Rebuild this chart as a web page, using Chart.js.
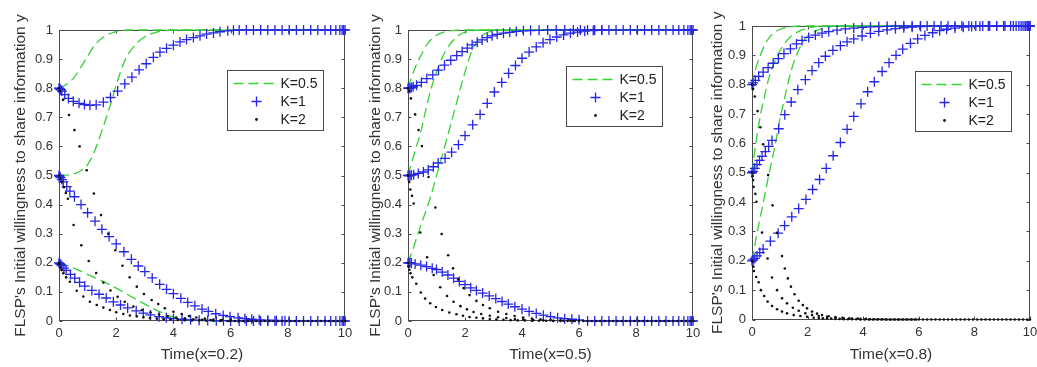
<!DOCTYPE html>
<html>
<head>
<meta charset="utf-8">
<script src="https://cdn.jsdelivr.net/npm/chart.js@4.4.1/dist/chart.umd.min.js"></script>
<style>
  html, body { margin: 0; padding: 0; background: #fff; }
  #wrap { position: relative; width: 1037px; height: 367px; overflow: hidden; }
  canvas { position: absolute; top: 0; }
</style>
</head>
<body>
<div id="wrap">
  <canvas id="c1" width="358" height="367" style="left:0px"></canvas>
  <canvas id="c2" width="358" height="367" style="left:350px"></canvas>
  <canvas id="c3" width="337" height="367" style="left:700px"></canvas>
</div>
<script>
// legend / axis text
const legendLabels = ["K=0.5", "K=1", "K=2"];
const yTitle = "FLSP's Initial willingness to share information y";
const xTitles = ["Time(x=0.2)", "Time(x=0.5)", "Time(x=0.8)"];

// shared flat tails (markers sitting on y=1 / y=0 after convergence)
const plusTop = [[6.3,1],[6.55,1],[6.8,1],[7.05,1],[7.3,1],[7.55,1],[7.8,1],[8.05,1],[8.3,1],[8.55,1],[8.8,1],[9.05,1],[9.3,1],[9.5,1],[9.68,1],[9.82,1],[9.9,1],[9.95,1],[10,1]];
const plusBottom = [[6.3,0],[6.55,0],[6.8,0],[7.05,0],[7.3,0],[7.55,0],[7.8,0],[8.05,0],[8.3,0],[8.55,0],[8.8,0],[9.05,0],[9.3,0],[9.5,0],[9.68,0],[9.82,0],[9.9,0],[9.95,0],[10,0]];
const dotBottom = [[6.15,0],[6.3,0],[6.45,0],[6.6,0],[6.75,0],[6.9,0],[7.05,0],[7.2,0],[7.35,0],[7.5,0],[7.65,0],[7.8,0],[7.95,0],[8.1,0],[8.25,0],[8.4,0],[8.55,0],[8.7,0],[8.85,0],[9.0,0],[9.15,0],[9.3,0],[9.45,0],[9.6,0],[9.75,0],[9.9,0],[10,0]];

// ---- panel 1 : x = 0.2 ----
const p1_k05_08 = [[0,0.8],[0.3,0.815],[0.55,0.84],[0.75,0.87],[1.0,0.91],[1.25,0.948],[1.6,0.979],[2.0,0.994],[2.4,1],[10,1]];
const p1_k05_05 = [[0,0.5],[0.5,0.505],[0.8,0.519],[1.03,0.542],[1.26,0.588],[1.55,0.668],[1.78,0.737],[2.02,0.817],[2.31,0.897],[2.66,0.948],[3.0,0.977],[3.36,0.991],[3.7,0.998],[4.2,1],[10,1]];
const p1_k05_02 = [[0,0.2],[0.3,0.19],[0.6,0.178],[1.0,0.16],[1.5,0.138],[2.0,0.113],[2.5,0.085],[3.0,0.058],[3.5,0.033],[4.0,0.014],[4.5,0.005],[5.0,0.001],[5.5,0],[10,0]];
const p1_k1_08 = [[0,0.8],[0.02,0.799],[0.04,0.797],[0.07,0.794],[0.1,0.79],[0.2,0.778],[0.33,0.765],[0.5,0.755],[0.7,0.748],[0.89,0.744],[1.08,0.741],[1.3,0.743],[1.55,0.752],[1.8,0.768],[2.05,0.79],[2.3,0.815],[2.55,0.838],[2.8,0.863],[3.05,0.884],[3.3,0.906],[3.53,0.924],[3.76,0.937],[4.0,0.948],[4.23,0.959],[4.46,0.967],[4.7,0.974],[4.93,0.98],[5.16,0.986],[5.4,0.99],[5.63,0.994],[5.9,0.997],[6.1,0.999], ...plusTop];
const p1_k1_05 = [[0,0.5],[0.02,0.497],[0.05,0.493],[0.1,0.486],[0.15,0.478],[0.27,0.462],[0.38,0.446],[0.54,0.427],[0.77,0.4],[1.0,0.372],[1.26,0.343],[1.5,0.315],[1.75,0.29],[2.0,0.265],[2.27,0.238],[2.53,0.212],[2.77,0.189],[3.0,0.17],[3.26,0.148],[3.52,0.126],[3.76,0.109],[4.0,0.094],[4.26,0.078],[4.5,0.064],[4.75,0.052],[5.0,0.041],[5.22,0.033],[5.48,0.025],[5.74,0.019],[5.98,0.015],[6.26,0.011],[6.5,0.008],[6.74,0.006],[7.0,0.004],[7.3,0.003],[7.6,0.002],[7.9,0.001]];
const p1_k1_02 = [[0,0.2],[0.03,0.197],[0.06,0.194],[0.1,0.19],[0.17,0.182],[0.25,0.174],[0.4,0.16],[0.55,0.147],[0.72,0.133],[0.9,0.12],[1.15,0.105],[1.4,0.092],[1.65,0.079],[1.9,0.066],[2.15,0.055],[2.4,0.045],[2.7,0.035],[2.95,0.027],[3.2,0.021],[3.5,0.015],[3.75,0.011],[4.0,0.008],[4.3,0.006],[4.6,0.004],[4.9,0.003],[5.2,0.002],[5.5,0.001],[5.75,0.001],[6.0,0], ...plusBottom];
const p1_k2_08 = [[0,0.8],[0.03,0.79],[0.14,0.76],[0.35,0.708],[0.54,0.656],[0.72,0.6],[0.97,0.518],[1.22,0.438],[1.47,0.364],[1.72,0.3],[1.97,0.243],[2.22,0.19],[2.47,0.15],[2.72,0.118],[2.97,0.093],[3.24,0.072],[3.47,0.058],[3.7,0.044],[4.0,0.032],[4.29,0.024],[4.55,0.017],[4.8,0.012],[5.1,0.008],[5.4,0.005],[5.7,0.003],[6.0,0.002]];
const p1_k2_05 = [[0,0.5],[0.04,0.49],[0.1,0.478],[0.17,0.46],[0.24,0.44],[0.31,0.42],[0.51,0.33],[0.78,0.26],[1.04,0.206],[1.3,0.165],[1.55,0.132],[1.8,0.105],[2.05,0.083],[2.3,0.066],[2.6,0.05],[2.9,0.038],[3.2,0.029],[3.5,0.022],[3.8,0.016],[4.1,0.012],[4.4,0.009],[4.7,0.006],[5.0,0.004],[5.3,0.003],[5.65,0.002],[6.0,0.001]];
const p1_k2_02 = [[0,0.2],[0.02,0.195],[0.05,0.185],[0.09,0.175],[0.15,0.164],[0.25,0.15],[0.38,0.135],[0.62,0.104],[0.85,0.084],[1.08,0.066],[1.32,0.055],[1.55,0.046],[1.78,0.038],[2.0,0.03],[2.25,0.024],[2.48,0.019],[2.72,0.016],[2.95,0.013],[3.18,0.01],[3.42,0.008],[3.66,0.006],[3.9,0.005],[4.15,0.004],[4.4,0.003],[4.65,0.002],[4.9,0.002],[5.15,0.001],[5.4,0.001],[5.65,0],[5.9,0], ...dotBottom];

// ---- panel 2 : x = 0.5 ----
const p2_k05_08 = [[0,0.8],[0.1,0.83],[0.25,0.87],[0.45,0.912],[0.7,0.955],[1.0,0.982],[1.4,0.996],[2.0,1],[10,1]];
const p2_k05_05 = [[0,0.5],[0.1,0.535],[0.3,0.6],[0.45,0.65],[0.6,0.715],[0.8,0.795],[1.0,0.855],[1.2,0.905],[1.45,0.948],[1.8,0.983],[2.2,0.997],[2.6,1],[10,1]];
const p2_k05_02 = [[0,0.2],[0.15,0.24],[0.42,0.32],[0.77,0.42],[1.06,0.52],[1.36,0.625],[1.65,0.73],[1.94,0.835],[2.23,0.925],[2.45,0.965],[2.7,0.988],[3.1,0.998],[3.5,1],[10,1]];
const p2_k1_08 = [[0,0.8],[0.03,0.8],[0.07,0.8],[0.12,0.802],[0.18,0.805],[0.3,0.81],[0.47,0.82],[0.66,0.833],[0.87,0.846],[1.07,0.862],[1.28,0.879],[1.5,0.896],[1.71,0.912],[1.9,0.926],[2.08,0.938],[2.25,0.949],[2.43,0.958],[2.6,0.966],[2.78,0.974],[2.95,0.98],[3.13,0.985],[3.35,0.989],[3.57,0.992],[3.8,0.995],[4.05,0.997],[4.3,0.998],[4.6,0.999],[4.9,1],[5.2,1],[5.5,1],[5.8,1],[6.05,1], ...plusTop];
const p2_k1_05 = [[0,0.5],[0.03,0.5],[0.07,0.5],[0.12,0.501],[0.2,0.503],[0.36,0.507],[0.54,0.512],[0.71,0.519],[0.89,0.53],[1.06,0.543],[1.3,0.559],[1.53,0.58],[1.77,0.606],[2.0,0.637],[2.27,0.674],[2.53,0.71],[2.78,0.748],[3.03,0.787],[3.29,0.82],[3.53,0.851],[3.77,0.878],[4.0,0.903],[4.25,0.924],[4.5,0.942],[4.74,0.956],[4.98,0.967],[5.22,0.976],[5.46,0.983],[5.7,0.989],[5.95,0.993],[6.2,0.996],[6.5,0.998],[6.8,1]];
const p2_k1_02 = [[0,0.2],[0.03,0.2],[0.07,0.2],[0.12,0.199],[0.25,0.196],[0.45,0.192],[0.65,0.187],[0.85,0.181],[1.0,0.177],[1.2,0.168],[1.4,0.158],[1.6,0.147],[1.8,0.136],[2.0,0.125],[2.2,0.114],[2.4,0.105],[2.62,0.096],[2.85,0.086],[3.08,0.077],[3.3,0.067],[3.52,0.058],[3.75,0.049],[4.0,0.041],[4.25,0.033],[4.5,0.026],[4.75,0.02],[5.0,0.015],[5.25,0.011],[5.5,0.008],[5.75,0.006],[6.0,0.004], ...plusBottom];
const p2_k2_08 = [[0,0.8],[0.04,0.79],[0.1,0.765],[0.25,0.71],[0.37,0.656],[0.49,0.601],[0.72,0.495],[0.96,0.39],[1.18,0.299],[1.41,0.226],[1.58,0.181],[1.76,0.143],[1.95,0.113],[2.16,0.089],[2.4,0.069],[2.63,0.055],[2.87,0.044],[3.16,0.032],[3.45,0.024],[3.74,0.017],[4.04,0.012],[4.35,0.008],[4.65,0.006],[5.0,0.004],[5.35,0.002],[5.7,0.001],[6.0,0]];
const p2_k2_05 = [[0,0.5],[0.04,0.478],[0.08,0.452],[0.14,0.43],[0.2,0.404],[0.43,0.304],[0.67,0.219],[0.9,0.158],[1.13,0.116],[1.37,0.086],[1.6,0.066],[1.84,0.051],[2.07,0.04],[2.3,0.031],[2.57,0.024],[2.87,0.018],[3.16,0.013],[3.45,0.01],[3.75,0.007],[4.05,0.005],[4.4,0.003],[4.75,0.002],[5.1,0.001],[5.45,0.001],[5.8,0]];
const p2_k2_02 = [[0,0.2],[0.02,0.188],[0.05,0.176],[0.09,0.164],[0.15,0.15],[0.29,0.128],[0.45,0.098],[0.6,0.077],[0.78,0.061],[0.98,0.048],[1.2,0.038],[1.45,0.029],[1.7,0.023],[1.93,0.018],[2.16,0.014],[2.4,0.011],[2.63,0.009],[2.87,0.007],[3.1,0.005],[3.35,0.004],[3.6,0.003],[3.85,0.002],[4.1,0.002],[4.35,0.001],[4.6,0.001],[4.85,0.001],[5.1,0],[5.35,0],[5.6,0],[5.85,0], ...dotBottom];

// ---- panel 3 : x = 0.8 ----
const p3_k05_08 = [[0,0.8],[0.06,0.83],[0.15,0.86],[0.3,0.9],[0.45,0.935],[0.6,0.958],[0.8,0.977],[1.0,0.988],[1.3,0.996],[1.7,1],[10,1]];
const p3_k05_05 = [[0,0.5],[0.05,0.54],[0.12,0.59],[0.22,0.65],[0.33,0.71],[0.45,0.76],[0.6,0.82],[0.78,0.87],[1.0,0.915],[1.25,0.95],[1.55,0.975],[1.9,0.99],[2.3,0.998],[2.7,1],[10,1]];
const p3_k05_02 = [[0,0.2],[0.05,0.225],[0.15,0.28],[0.3,0.35],[0.45,0.42],[0.62,0.5],[0.8,0.58],[1.0,0.68],[1.2,0.765],[1.4,0.845],[1.62,0.905],[1.9,0.955],[2.2,0.978],[2.6,0.993],[3.0,1],[10,1]];
const p3_k1_08 = [[0,0.8],[0.04,0.806],[0.12,0.815],[0.24,0.828],[0.4,0.843],[0.58,0.858],[0.76,0.873],[0.95,0.889],[1.15,0.906],[1.38,0.922],[1.6,0.939],[1.8,0.951],[2.04,0.961],[2.28,0.969],[2.52,0.976],[2.76,0.981],[3.06,0.986],[3.36,0.99],[3.66,0.993],[3.96,0.995],[4.26,0.997],[4.56,0.998],[4.86,0.999],[5.16,1],[5.46,1],[5.76,1],[6.06,1]];
const p3_k1_05 = [[0,0.5],[0.04,0.505],[0.1,0.515],[0.18,0.528],[0.27,0.542],[0.36,0.556],[0.48,0.572],[0.6,0.59],[0.72,0.61],[0.96,0.65],[1.18,0.698],[1.41,0.741],[1.65,0.783],[1.92,0.817],[2.16,0.848],[2.4,0.875],[2.64,0.897],[2.91,0.917],[3.18,0.933],[3.42,0.946],[3.66,0.956],[3.96,0.966],[4.26,0.975],[4.56,0.982],[4.86,0.987],[5.16,0.991],[5.46,0.994],[5.76,0.996],[6.06,0.998], ...plusTop];
const p3_k1_02 = [[0,0.2],[0.04,0.203],[0.1,0.208],[0.18,0.217],[0.28,0.228],[0.4,0.24],[0.66,0.267],[0.94,0.294],[1.17,0.32],[1.43,0.35],[1.68,0.378],[1.94,0.409],[2.18,0.443],[2.43,0.477],[2.67,0.515],[2.92,0.558],[3.18,0.603],[3.42,0.648],[3.66,0.692],[3.92,0.735],[4.16,0.776],[4.4,0.81],[4.68,0.845],[4.93,0.875],[5.18,0.9],[5.42,0.921],[5.7,0.941],[5.96,0.956],[6.22,0.968],[6.5,0.977],[6.75,0.984],[7.0,0.989],[7.3,0.993],[7.6,0.996],[7.9,0.998],[8.2,0.999],[8.5,1],[8.8,1],[9.1,1],[9.4,1],[9.6,1],[9.75,1],[9.85,1],[9.92,1],[10,1]];
const p3_k2_08 = [[0,0.8],[0.04,0.785],[0.1,0.76],[0.2,0.71],[0.3,0.655],[0.4,0.597],[0.58,0.492],[0.74,0.389],[0.9,0.295],[1.08,0.216],[1.18,0.174],[1.29,0.14],[1.4,0.112],[1.53,0.086],[1.68,0.064],[1.83,0.049],[1.98,0.038],[2.16,0.027],[2.34,0.02],[2.52,0.015],[2.76,0.011],[3.0,0.008],[3.25,0.006],[3.5,0.004],[3.8,0.003],[4.1,0.002],[4.4,0.001],[4.7,0.001],[5.0,0],[5.3,0],[5.6,0],[5.9,0]];
const p3_k2_05 = [[0,0.5],[0.02,0.488],[0.04,0.475],[0.06,0.452],[0.12,0.428],[0.16,0.401],[0.36,0.296],[0.56,0.208],[0.72,0.143],[0.9,0.1],[1.08,0.072],[1.26,0.055],[1.47,0.04],[1.68,0.03],[1.92,0.021],[2.16,0.015],[2.4,0.012],[2.7,0.009],[3.0,0.006],[3.3,0.004],[3.6,0.003],[3.9,0.002],[4.25,0.001],[4.55,0.001],[4.85,0],[5.15,0],[5.45,0],[5.75,0]];
const p3_k2_02 = [[0,0.2],[0.02,0.197],[0.05,0.18],[0.07,0.165],[0.15,0.145],[0.24,0.127],[0.32,0.1],[0.44,0.08],[0.56,0.061],[0.72,0.046],[0.9,0.035],[1.08,0.027],[1.26,0.021],[1.5,0.015],[1.74,0.012],[1.98,0.009],[2.22,0.006],[2.4,0.005],[2.55,0.004],[2.7,0.003],[2.85,0.003],[3.0,0.002],[3.15,0.002],[3.3,0.001],[3.45,0.001],[3.6,0.001],[3.75,0.001],[3.9,0],[4.05,0],[4.2,0],[4.35,0],[4.5,0],[4.65,0],[4.8,0],[4.95,0],[5.1,0],[5.25,0],[5.4,0],[5.55,0],[5.7,0],[5.85,0],[6.0,0], ...dotBottom];

const GREEN = "#34d234";
const BLUE = "#2626e8";
const DOT = "#111111";
const AXIS = "#4a4a4a";
const TEXT = "#333333";
const FONT = "'Liberation Sans', Arial, Helvetica, sans-serif";

const toXY = (pts) => pts.map(([x, y]) => ({ x, y }));

function greenSet(pts) {
  return {
    label: legendLabels[0], data: toXY(pts), showLine: true, borderColor: GREEN,
    borderWidth: 1.3, borderDash: [10, 5], pointRadius: 0, fill: false,
    cubicInterpolationMode: "monotone", order: 3, clip: false,
  };
}
function plusSet(pts) {
  return {
    label: legendLabels[1], data: toXY(pts), showLine: false, pointStyle: "cross",
    pointRadius: 5, borderColor: BLUE, backgroundColor: BLUE, borderWidth: 1.3,
    order: 2, clip: false,
  };
}
function dotSet(pts) {
  return {
    label: legendLabels[2], data: toXY(pts), showLine: false, pointStyle: "circle",
    pointRadius: 1.3, backgroundColor: DOT, borderWidth: 0, order: 1, clip: false,
  };
}

// MATLAB-ish box, inward ticks and an in-plot legend
const matlabAxes = {
  id: "matlabAxes",
  beforeDatasetsDraw(chart) {
    const { ctx, chartArea: a, scales } = chart;
    const L = Math.round(a.left) + 0.5, R = Math.round(a.right) - 0.5;
    const T = Math.round(a.top) + 0.5, B = Math.round(a.bottom) - 0.5;
    ctx.save();
    ctx.strokeStyle = AXIS;
    ctx.lineWidth = 1;
    ctx.strokeRect(L, T, R - L, B - T);
    ctx.beginPath();
    scales.x.ticks.forEach((t) => {
      const px = Math.round(scales.x.getPixelForValue(t.value)) + 0.5;
      ctx.moveTo(px, B); ctx.lineTo(px, B - 3);
      ctx.moveTo(px, T); ctx.lineTo(px, T + 3);
    });
    scales.y.ticks.forEach((t) => {
      const py = Math.round(scales.y.getPixelForValue(t.value)) + 0.5;
      ctx.moveTo(L, py); ctx.lineTo(L + 3, py);
      ctx.moveTo(R, py); ctx.lineTo(R - 3, py);
    });
    ctx.stroke();
    ctx.restore();
  },
  afterDatasetsDraw(chart, args, opts) {
    const { ctx, chartArea: a } = chart;
    const bx = Math.round(a.left + opts.left) + 0.5;
    const by = Math.round(a.top + opts.top) + 0.5;
    ctx.save();
    ctx.fillStyle = "#fff";
    ctx.fillRect(bx, by, 96, 60);
    ctx.strokeStyle = AXIS;
    ctx.lineWidth = 1;
    ctx.strokeRect(bx, by, 96, 60);
    const rows = [13, 31, 49];
    // K=0.5 dashed sample
    ctx.strokeStyle = GREEN;
    ctx.lineWidth = 1.3;
    ctx.setLineDash([10, 5]);
    ctx.beginPath();
    ctx.moveTo(bx + 6, by + rows[0]);
    ctx.lineTo(bx + 50, by + rows[0]);
    ctx.stroke();
    ctx.setLineDash([]);
    // K=1 plus sample
    ctx.strokeStyle = BLUE;
    ctx.lineWidth = 1.3;
    ctx.beginPath();
    ctx.moveTo(bx + 29 - 5, by + rows[1]); ctx.lineTo(bx + 29 + 5, by + rows[1]);
    ctx.moveTo(bx + 29, by + rows[1] - 5); ctx.lineTo(bx + 29, by + rows[1] + 5);
    ctx.stroke();
    // K=2 dot sample
    ctx.fillStyle = DOT;
    ctx.beginPath();
    ctx.arc(bx + 29, by + rows[2], 1.4, 0, Math.PI * 2);
    ctx.fill();
    ctx.fillStyle = "#222";
    ctx.font = "14px " + FONT;
    ctx.textBaseline = "middle";
    legendLabels.forEach((lab, i) => ctx.fillText(lab, bx + 53, by + rows[i] + 1));
    ctx.restore();
  },
};

function makePanel(id, curves, xTitle, lay) {
  const datasets = [
    ...curves.k2.map(dotSet),
    ...curves.k1.map(plusSet),
    ...curves.k05.map(greenSet),
  ];
  return new Chart(document.getElementById(id), {
    type: "scatter",
    data: { datasets },
    options: {
      responsive: false,
      devicePixelRatio: 1,
      animation: false,
      events: [],
      layout: { padding: { left: 0, top: lay.top, right: lay.right, bottom: 0 } },
      plugins: {
        legend: { display: false },
        tooltip: { enabled: false },
        matlabAxes: lay.legend,
      },
      scales: {
        x: {
          type: "linear", min: 0, max: 10,
          grid: { display: false, drawTicks: false },
          border: { display: false },
          ticks: { stepSize: 2, padding: 5, color: TEXT, font: { size: 13, family: FONT }, maxRotation: 0 },
          title: { display: true, text: xTitle, color: TEXT, font: { size: 15.5, family: FONT }, padding: { top: 0, bottom: 3 } },
          afterFit(scale) { scale.height = lay.xh; scale.paddingLeft = 0; scale.paddingRight = 0; },
        },
        y: {
          type: "linear", min: 0, max: 1,
          grid: { display: false, drawTicks: false },
          border: { display: false },
          ticks: {
            stepSize: 0.1, padding: 6, color: TEXT, font: { size: 13, family: FONT },
            callback: (v) => String(Math.round(v * 10) / 10),
          },
          title: { display: true, text: yTitle, color: TEXT, font: { size: 15.5, family: FONT }, padding: { top: lay.tpad, bottom: 0 } },
          afterFit(scale) { scale.width = lay.yw; scale.paddingTop = 0; scale.paddingBottom = 0; },
        },
      },
    },
    plugins: [matlabAxes],
  });
}

makePanel("c1",
  { k05: [p1_k05_08, p1_k05_05, p1_k05_02], k1: [p1_k1_08, p1_k1_05, p1_k1_02], k2: [p1_k2_08, p1_k2_05, p1_k2_02] },
  xTitles[0],
  { top: 30, right: 13, yw: 59, xh: 46, tpad: 11.5, legend: { left: 168, top: 40 } });

makePanel("c2",
  { k05: [p2_k05_08, p2_k05_05, p2_k05_02], k1: [p2_k1_08, p2_k1_05, p2_k1_02], k2: [p2_k2_08, p2_k2_05, p2_k2_02] },
  xTitles[1],
  { top: 30, right: 15, yw: 58, xh: 46, tpad: 16.5, legend: { left: 158, top: 36 } });

makePanel("c3",
  { k05: [p3_k05_08, p3_k05_05, p3_k05_02], k1: [p3_k1_08, p3_k1_05, p3_k1_02], k2: [p3_k2_08, p3_k2_05, p3_k2_02] },
  xTitles[2],
  { top: 26, right: 7, yw: 52, xh: 47.5, tpad: 8.5, legend: { left: 163, top: 45 } });
</script>
</body>
</html>
